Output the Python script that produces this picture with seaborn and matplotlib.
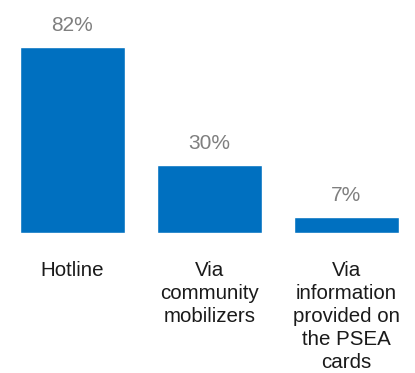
import matplotlib
matplotlib.use("Agg")
import matplotlib.pyplot as plt
import seaborn as sns
import pandas as pd

categories = ["Hotline", "Via\ncommunity\nmobilizers", "Via\ninformation\nprovided on\nthe PSEA\ncards"]
values = [82, 30, 7]
value_labels = ["82%", "30%", "7%"]

sns.set_theme(style="white")
plt.rcParams["font.family"] = ["Liberation Sans", "DejaVu Sans"]

df = pd.DataFrame({"channel": categories, "share": values})

fig = plt.figure(figsize=(4.15, 3.73), dpi=100)
ax = fig.add_axes([4 / 415, (373 - 233) / 373, 411 / 415, 187 / 373])

sns.barplot(data=df, x="channel", y="share", color="#0070C0", saturation=1,
            width=0.766, ax=ax)
ax.set_ylim(0, 82.4)
ax.set_xlim(-0.5, 2.5)

for patch, lab in zip(ax.patches, value_labels):
    ax.annotate(lab, (patch.get_x() + patch.get_width() / 2, patch.get_height()),
                xytext=(0, 11.5), textcoords="offset points", ha="center", va="baseline",
                fontsize=15, color="#7F7F7F")

ax.set_xlabel("")
ax.set_ylabel("")
ax.set_yticks([])
ax.tick_params(axis="x", length=0, pad=20, labelsize=14.8, labelcolor="#1A1A1A")
for t in ax.get_xticklabels():
    t.set_linespacing(1.27)
for s in ax.spines.values():
    s.set_visible(False)

fig.savefig("out.png", dpi=100)
